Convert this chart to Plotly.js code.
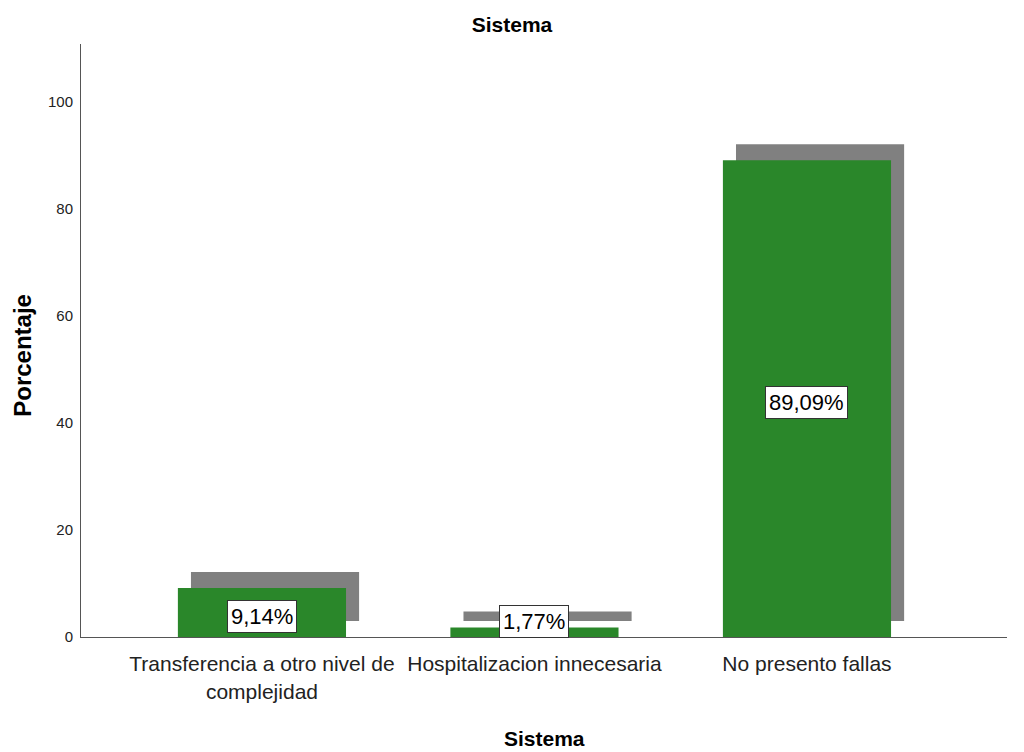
<!DOCTYPE html>
<html>
<head>
<meta charset="utf-8">
<script src="https://cdn.plot.ly/plotly-3.0.1.min.js"></script>
<style>html,body{margin:0;padding:0;background:#fff;}#chart{width:1024px;height:752px;}</style>
</head>
<body>
<div id="chart"></div>
<script>
const categories = ["Transferencia a otro nivel de<br>complejidad", "Hospitalizacion innecesaria", "No presento fallas"];
const percentages = [9.14, 1.77, 89.09];
const labels = ["9,14%", "1,77%", "89,09%"];
const yTicks = [0, 20, 40, 60, 80, 100];

const idx = categories.map((c, i) => i);
const shadowDx = 0.048, shadowDy = 3;
const font = "Liberation Sans, Arial, sans-serif";

const shadow = {
  type: "bar", x: idx.map(i => i + shadowDx), y: percentages, base: shadowDy,
  width: 0.617, marker: {color: "#808080"}, hoverinfo: "skip", showlegend: false
};
const bars = {
  type: "bar", x: idx, y: percentages, width: 0.617,
  marker: {color: "#2a872a"}, showlegend: false
};

const annotations = idx.map(i => ({
  x: i, y: Math.max(percentages[i] / 2, 3.6), xref: "x", yref: "y", yshift: -4,
  text: labels[i], showarrow: false, bgcolor: "#ffffff", bordercolor: "#333333",
  borderwidth: 1, borderpad: 3, font: {family: font, size: 22, color: "#000"}
}));
annotations.push({
  text: "<b>Porcentaje</b>", xref: "paper", yref: "paper", x: -0.064, y: 0.4755,
  xanchor: "center", yanchor: "middle", textangle: -90, showarrow: false,
  font: {family: font, size: 24, color: "#000"}
});
annotations.push({
  text: "<b>Sistema</b>", xref: "paper", yref: "paper", x: 0.5, y: -0.172,
  xanchor: "center", yanchor: "middle", showarrow: false,
  font: {family: font, size: 21, color: "#000"}
});

const layout = {
  width: 1024, height: 752,
  margin: {l: 81, r: 17, t: 44, b: 115},
  paper_bgcolor: "#fff", plot_bgcolor: "#fff",
  barmode: "overlay",
  title: {text: "<b>Sistema</b>", x: 0.5, xanchor: "center", y: 0.967, yanchor: "middle",
          font: {family: font, size: 21, color: "#000"}},
  xaxis: {
    range: [-0.664, 2.734], tickvals: idx, ticktext: categories,
    showgrid: false, zeroline: false, showline: true, linecolor: "#555", linewidth: 1,
    ticks: "", ticklabelstandoff: 8, tickfont: {family: font, size: 21, color: "#222"}
  },
  yaxis: {
    range: [0, 110.8], tickvals: yTicks, ticktext: yTicks.map(String),
    showgrid: false, zeroline: false, showline: true, linecolor: "#555", linewidth: 1,
    ticks: "", ticklen: 0, ticklabelstandoff: 4, tickfont: {family: font, size: 15, color: "#222"}
  },
  annotations: annotations
};

Plotly.newPlot("chart", [shadow, bars], layout, {displayModeBar: false, staticPlot: true});
</script>
</body>
</html>
